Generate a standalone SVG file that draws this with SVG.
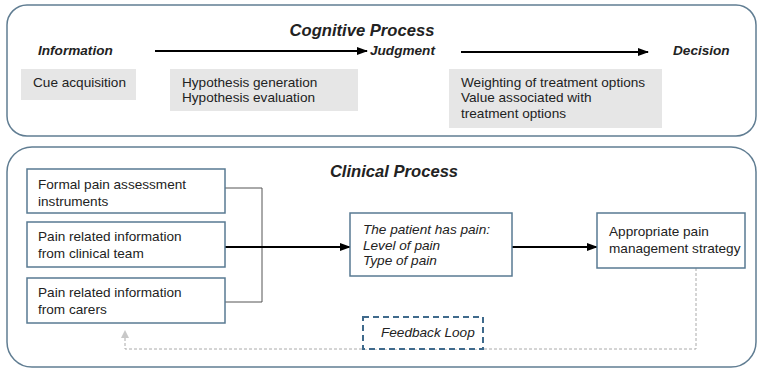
<svg xmlns="http://www.w3.org/2000/svg" width="760" height="369" viewBox="0 0 760 369">
<defs>
<style>
text{font-family:"Liberation Sans",Arial,sans-serif;fill:#222;}
.t{font-size:13.6px;}
.it{font-size:13.6px;font-style:italic;}
.bi{font-size:13.6px;font-weight:bold;font-style:italic;}
.title{font-size:16.6px;font-weight:bold;font-style:italic;}
.outer{fill:#fff;stroke:#607d92;stroke-width:1.5;}
.gray{fill:#e6e6e6;stroke:none;}
.box{fill:#fff;stroke:#587a92;stroke-width:1.5;}
.ln{fill:none;stroke:#000;stroke-width:2;}
.thin{fill:none;stroke:#555;stroke-width:1;}
.fb{fill:none;stroke:#aaa;stroke-width:1;stroke-dasharray:3,2;}
.dash{fill:#fff;stroke:#3f6a8c;stroke-width:2;stroke-dasharray:6,4;}
</style>
<marker id="ah" markerWidth="11" markerHeight="10" refX="10" refY="5" orient="auto" markerUnits="userSpaceOnUse">
<path d="M0,1 L11,5 L0,9 z" fill="#000"/>
</marker>
</defs>
<rect width="760" height="369" fill="#fff"/>

<g id="cognitive">
<rect class="outer" x="7" y="5" width="749" height="131" rx="20" ry="20"/>
<text class="title" x="362" y="36" text-anchor="middle">Cognitive Process</text>
</g>
<g id="information">
<text class="bi" x="38" y="55">Information</text>
<rect class="gray" x="21" y="69" width="115" height="31"/>
<text class="t" x="33" y="87">Cue acquisition</text>
</g>
<g id="judgment">
<text class="bi" x="370" y="55">Judgment</text>
<rect class="gray" x="170" y="69" width="188" height="42"/>
<text class="t" x="182" y="87">Hypothesis generation</text>
<text class="t" x="182" y="102">Hypothesis evaluation</text>
</g>
<g id="decision">
<text class="bi" x="673" y="55">Decision</text>
<rect class="gray" x="449" y="69" width="213" height="59"/>
<text class="t" x="461" y="87">Weighting of treatment options</text>
<text class="t" x="461" y="102">Value associated with</text>
<text class="t" x="461" y="118">treatment options</text>
</g>

<g id="clinical">
<rect class="outer" x="7" y="147" width="749" height="220" rx="25" ry="25"/>
<text class="title" x="394" y="177" text-anchor="middle">Clinical Process</text>
</g>

<g id="connectors">
<line class="ln" x1="155" y1="51" x2="367" y2="51" marker-end="url(#ah)"/>
<line class="ln" x1="461" y1="52" x2="648" y2="52" marker-end="url(#ah)"/>
<path class="thin" d="M225,188 H262 V302 H225"/>
<line class="ln" x1="225" y1="247" x2="350" y2="247" marker-end="url(#ah)"/>
<line class="ln" x1="512" y1="247" x2="597" y2="247" marker-end="url(#ah)"/>
<path class="fb" d="M696,268 V349 H125 V337"/>
<path d="M121,338 L125,330 L129,338 z" fill="#c8c8c8"/>
</g>

<g id="formal">
<rect class="box" x="27" y="169" width="198" height="44"/>
<text class="t" x="38" y="189">Formal pain assessment</text>
<text class="t" x="38" y="206">instruments</text>
</g>
<g id="clinicalteam">
<rect class="box" x="27" y="222" width="198" height="45"/>
<text class="t" x="38" y="241">Pain related information</text>
<text class="t" x="38" y="258">from clinical team</text>
</g>
<g id="carers">
<rect class="box" x="27" y="278" width="198" height="45"/>
<text class="t" x="38" y="297">Pain related information</text>
<text class="t" x="38" y="314">from carers</text>
</g>
<g id="patient">
<rect class="box" x="350" y="213" width="162" height="63"/>
<text class="it" x="363" y="234">The patient has pain:</text>
<text class="it" x="363" y="250">Level of pain</text>
<text class="it" x="363" y="265">Type of pain</text>
</g>
<g id="strategy">
<rect class="box" x="597" y="213" width="148" height="55"/>
<text class="t" x="609" y="236">Appropriate pain</text>
<text class="t" x="609" y="253">management strategy</text>
</g>
<g id="feedback">
<rect class="dash" x="363" y="317" width="120" height="32"/>
<text class="it" x="381" y="337">Feedback Loop</text>
</g>
</svg>
